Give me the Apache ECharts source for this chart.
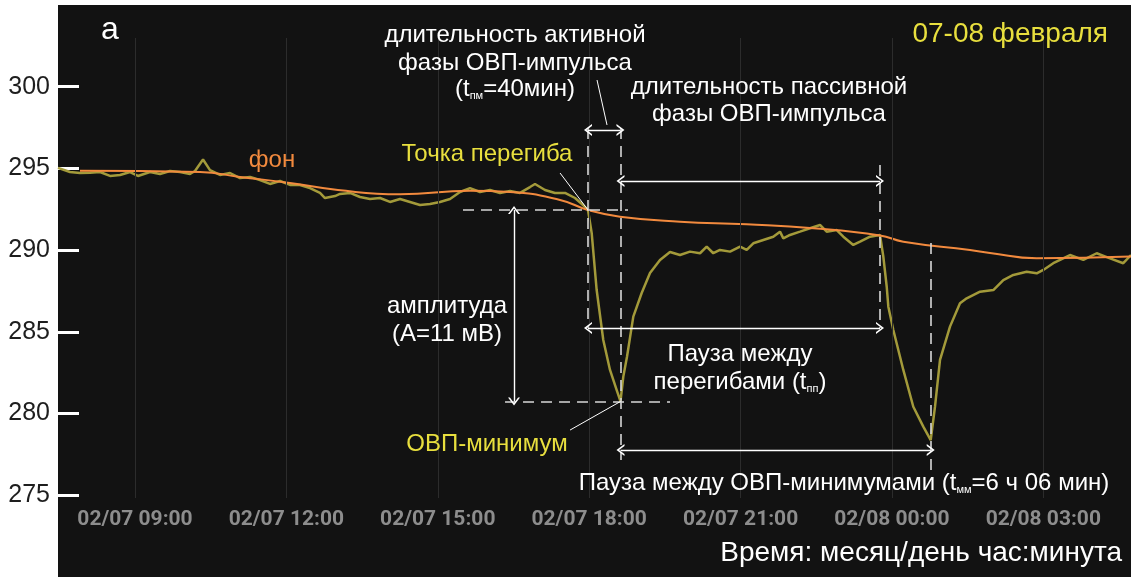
<!DOCTYPE html>
<html>
<head>
<meta charset="utf-8">
<script src="https://cdn.jsdelivr.net/npm/echarts@6/dist/echarts.min.js"></script>
<style>
html,body{margin:0;padding:0;background:#ffffff;}
#chart{width:1131px;height:577px;}
</style>
</head>
<body>
<div id="chart"></div>
<script>
// ---- data (time in hours from 02/07 00:00, ORP in mV) ----
const signalT = [7.474,7.712,7.910,8.108,8.306,8.505,8.703,8.901,9.059,9.297,9.495,9.694,9.892,10.090,10.189,10.348,10.486,10.684,10.883,11.081,11.279,11.477,11.675,11.874,12.072,12.270,12.468,12.666,12.765,12.964,13.062,13.261,13.459,13.657,13.855,14.053,14.252,14.450,14.648,14.846,15.044,15.243,15.441,15.639,15.837,16.035,16.234,16.432,16.630,16.828,16.927,17.125,17.323,17.522,17.720,17.878,17.977,18.050,18.149,18.280,18.413,18.546,18.621,18.677,18.750,18.875,19.041,19.206,19.404,19.602,19.800,19.998,20.197,20.329,20.460,20.593,20.792,20.990,21.122,21.253,21.451,21.649,21.782,21.848,21.980,22.178,22.377,22.575,22.707,22.906,23.037,23.235,23.368,23.566,23.764,23.830,23.897,23.929,24.028,24.226,24.424,24.622,24.769,24.854,24.953,25.151,25.349,25.482,25.746,26.010,26.208,26.406,26.671,26.869,27.000,27.198,27.529,27.793,28.058,28.322,28.585,28.738];
const signalV = [295.03,294.78,294.72,294.74,294.78,294.54,294.60,294.78,294.54,294.78,294.66,294.84,294.78,294.66,294.84,295.55,294.90,294.60,294.72,294.41,294.48,294.29,294.05,294.23,293.99,293.99,293.80,293.50,293.19,293.31,293.44,293.50,293.25,293.13,293.19,292.95,293.13,292.95,292.76,292.82,292.95,293.13,293.56,293.80,293.56,293.68,293.50,293.62,293.50,293.86,294.05,293.68,293.50,293.50,293.19,292.76,292.46,291.05,287.56,284.50,282.67,281.44,280.74,282.26,283.48,285.93,287.38,288.60,289.40,289.89,289.70,289.91,289.81,290.21,289.81,290.01,289.91,290.21,290.01,290.42,290.62,290.82,291.13,290.72,290.93,291.13,291.34,291.54,291.13,291.23,290.82,290.32,290.52,290.82,290.93,289.60,287.76,286.54,285.11,282.67,280.42,279.20,278.38,280.42,283.28,285.32,286.75,287.05,287.46,287.56,288.17,288.48,288.68,288.58,288.79,289.20,289.70,289.40,289.81,289.50,289.20,289.70];
const backgroundT = [7.910,10.288,11.081,12.072,13.022,14.252,15.639,16.432,17.423,17.977,18.611,19.800,21.122,22.442,23.764,24.226,25.547,25.943,26.869,28.738];
const backgroundV = [294.86,294.78,294.48,294.11,293.68,293.42,293.64,293.56,293.07,292.46,292.05,291.74,291.58,291.34,290.90,290.52,290.01,289.83,289.50,289.61];
const xTicks = [9,12,15,18,21,24,27];
const yTicks = [275,280,285,290,295,300];
// key points [time, value]
const inflection1 = [17.977, 292.46];
const minimum1 = [18.621, 280.74];
const inflection2 = [23.764, 290.93];
const minimum2 = [24.769, 278.38];

const signalData = signalT.map((t,i)=>[t, signalV[i]]);
const backgroundData = backgroundT.map((t,i)=>[t, backgroundV[i]]);

function fmtTime(h){
  const day = 7 + Math.floor(h/24);
  const hh = Math.round(h % 24);
  return '02/' + String(day).padStart(2,'0') + ' ' + String(hh).padStart(2,'0') + ':00';
}
const chevron = 'path://M0,10 L5,0 L10,10 L8.4,10 L5,3.2 L1.6,10 Z';

const gridLines = xTicks.map(t => [{coord:[t, 302.98]}, {coord:[t, 274.83]}]);

const dashed = [
  [{coord:[inflection1[0], 297.47]}, {coord:[inflection1[0], 285.24]}],
  [{coord:[minimum1[0], 297.47]}, {coord:[minimum1[0], 277.16]}],
  [{coord:[15.50, inflection1[1]]}, {coord:[18.77, inflection1[1]]}],
  [{coord:[16.333, minimum1[1]]}, {coord:[19.603, minimum1[1]]}],
  [{coord:[inflection2[0], 295.21]}, {coord:[inflection2[0], 285.24]}],
  [{coord:[minimum2[0], 290.44]}, {coord:[minimum2[0], 276.55]}]
];
const arrows = [
  [{coord:[inflection1[0], 297.35]}, {coord:[minimum1[0], 297.35]}],
  [{coord:[minimum1[0], 294.23]}, {coord:[inflection2[0], 294.23]}],
  [{coord:[16.511, inflection1[1]]}, {coord:[16.511, minimum1[1]]}],
  [{coord:[inflection1[0], 285.24]}, {coord:[inflection2[0], 285.24]}],
  [{coord:[minimum1[0], 277.77]}, {coord:[minimum2[0], 277.77]}]
];
const pointers = [
  [{coord:[18.156, 300.41]}, {coord:[18.354, 297.66]}],
  [{coord:[17.423, 294.72]}, {coord:inflection1}],
  [{coord:[17.621, 278.99]}, {coord:minimum1}]
];

const chart = echarts.init(document.getElementById('chart'));
const FONT = '"Liberation Sans", Arial, sans-serif';
function txt(x, y, text, opts){
  opts = opts || {};
  return {type:'text', x:x, y:y, z:100, silent:true,
    style:Object.assign({text:text, fill:'#ffffff', fontSize:24, fontFamily:FONT,
      align:'center', verticalAlign:'middle'}, opts)};
}
const subRich = {sub:{fontSize:11, fontFamily:FONT, fill:'#ffffff', verticalAlign:'bottom', padding:[8,0,0,0]}};

chart.setOption({
  animation:false,
  backgroundColor:'#ffffff',
  grid:{left:58, top:5, right:0, bottom:0, show:true, backgroundColor:'#121212', borderWidth:0, containLabel:false},
  xAxis:{
    type:'value', min:7.474, max:28.738, position:'bottom', offset:-68,
    axisLine:{show:false}, axisTick:{show:false}, splitLine:{show:false},
    axisLabel:{customValues:xTicks, formatter:fmtTime, color:'#8d8d8d', fontSize:21,
      fontWeight:'bold', fontFamily:'Roboto', margin:0}
  },
  yAxis:{
    type:'value', min:270, max:305, interval:5,
    axisLine:{show:false}, splitLine:{show:false},
    axisTick:{show:true, inside:true, length:21, customValues:yTicks, lineStyle:{color:'#ffffff', width:3}},
    axisLabel:{customValues:yTicks, color:'#1e1e1e', fontSize:25, fontFamily:FONT, margin:8}
  },
  series:[
    {type:'line', name:'grid', data:[], silent:true, z:1,
      markLine:{silent:true, symbol:'none', animation:false, label:{show:false},
        lineStyle:{color:'#2c2c2c', width:1, type:'solid'}, data:gridLines}},
    {type:'line', name:'ОВП', data:signalData, showSymbol:false, symbol:'none', z:3,
      lineStyle:{color:'#a39a3a', width:2.5}},
    {type:'line', name:'фон', data:backgroundData, showSymbol:false, symbol:'none', smooth:0.5, z:4,
      lineStyle:{color:'#f28a3e', width:2}},
    {type:'line', name:'dashed', data:[], silent:true, z:5,
      markLine:{silent:true, symbol:'none', animation:false, label:{show:false},
        lineStyle:{color:'#d8d8d8', width:1.6, type:[11,7]}, data:dashed}},
    {type:'line', name:'arrows', data:[], silent:true, z:6,
      markLine:{silent:true, symbol:[chevron, chevron], symbolSize:[12,8], animation:false, label:{show:false},
        lineStyle:{color:'#ffffff', width:1.4, type:'solid'}, data:arrows}},
    {type:'line', name:'pointers', data:[], silent:true, z:6,
      markLine:{silent:true, symbol:'none', animation:false, label:{show:false},
        lineStyle:{color:'#ffffff', width:1, type:'solid'}, data:pointers}}
  ],
  graphic:[
    txt(110, 30, 'a', {fontSize:32}),
    txt(1108, 34, '07-08 февраля', {fontSize:28, fill:'#e8df3e', align:'right'}),
    txt(515, 35, 'длительность активной'),
    txt(515, 63, 'фазы ОВП-импульса'),
    txt(515, 89, '(t{sub|пм}=40мин)', {rich:subRich}),
    txt(769, 87, 'длительность пассивной'),
    txt(769, 114, 'фазы ОВП-импульса'),
    txt(487, 154, 'Точка перегиба', {fill:'#e8df3e'}),
    txt(272, 160, 'фон', {fill:'#f28a3e'}),
    txt(447, 306, 'амплитуда'),
    txt(447, 334, '(А=11 мВ)'),
    txt(740, 354, 'Пауза между'),
    txt(740, 382, 'перегибами (t{sub|пп})', {rich:subRich}),
    txt(487, 444, 'ОВП-минимум', {fill:'#e8df3e'}),
    txt(844, 483, 'Пауза между ОВП-минимумами (t{sub|мм}=6 ч 06 мин)', {rich:subRich}),
    txt(1122, 553, 'Время: месяц/день час:минута', {fontSize:28, align:'right'})
  ]
});
</script>
</body>
</html>
